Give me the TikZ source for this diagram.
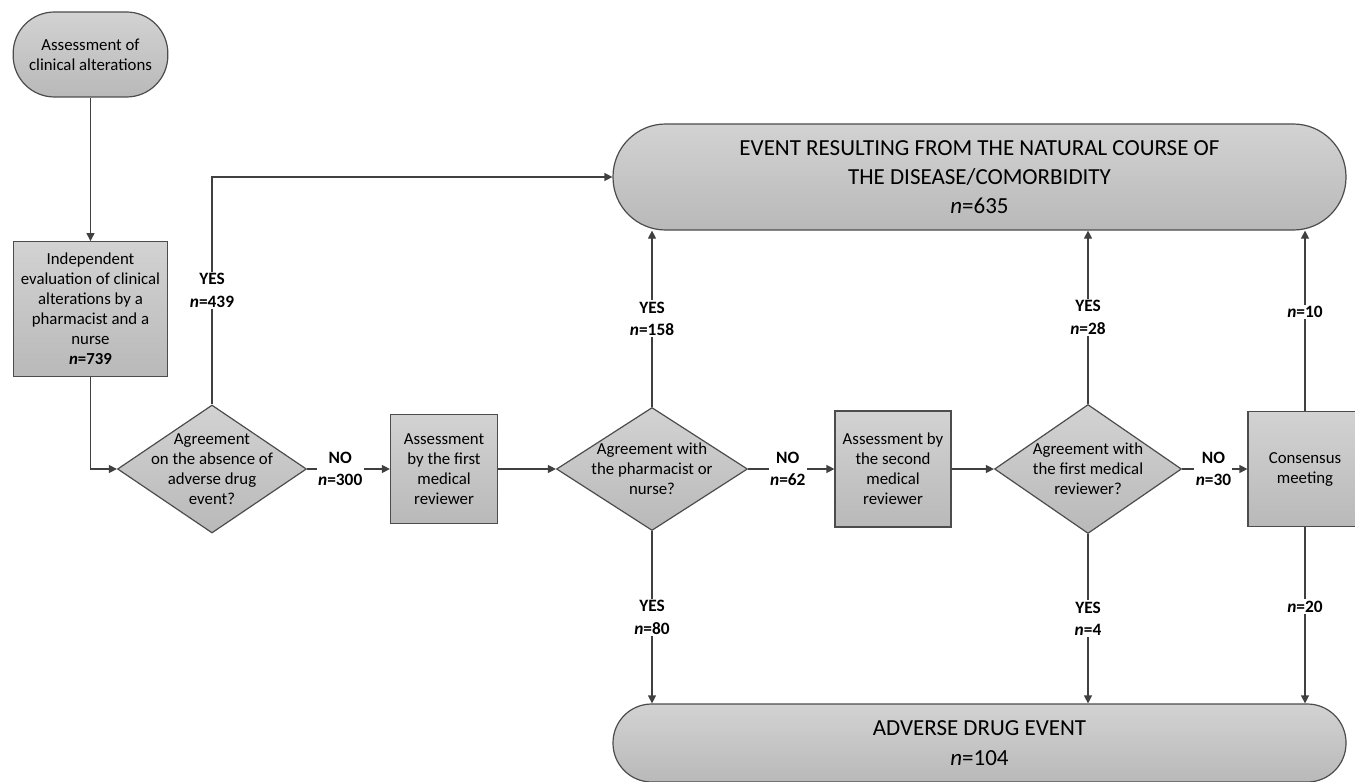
\documentclass[tikz,border=0pt]{standalone}
\usepackage{fontspec}
\setmainfont{Carlito}
\usetikzlibrary{shapes.geometric, arrows.meta}

\begin{document}
\begin{tikzpicture}[x=0.75pt, y=-0.75pt, line width=0.9pt, >={Triangle[length=6pt, width=6pt]},
		main/.style = {draw=black!70, top color=gray!35, bottom color=gray!55, align=center, inner sep=2pt, font=\fontsize{12.6}{15}\selectfont},
		term/.style = {main, rectangle, rounded corners=#1},
		box/.style = {main, rectangle},
		dec/.style = {main, diamond},
		every label/.style = {align=center, font=\fontsize{12.6}{15}\selectfont},
		lbl/.style = {fill=white, inner sep=1pt, align=center, font=\bfseries\fontsize{13}{17}\selectfont},
		conn/.style = {->, draw=black!75}]
		\useasboundingbox (0,0) rectangle (1355,781);
		\node[term=31pt, minimum width=116pt, minimum height=63.75pt] (1) at (90.5,54.5) {Assessment of\\clinical alterations};
		\node[box, minimum width=115.5pt, minimum height=101.25pt] (2) [below of=1, node distance=191pt] {Independent\\evaluation of clinical\\alterations by a\\pharmacist and a\\nurse\\\textbf{\textit{n}=739}};
		\node[dec, minimum width=141.75pt, minimum height=96pt, label={center:{Agreement\\on the absence of\\adverse drug\\event?}}] (3) at (212,469) {};
		\node[box, minimum width=80.25pt, minimum height=81.75pt] (4) [right of=3, node distance=174pt] {Assessment\\by the first\\medical\\reviewer};
		\node[dec, minimum width=143.25pt, minimum height=92.25pt, label={center:{Agreement with\\the pharmacist or\\nurse?}}] (5) [right of=4, node distance=156pt] {};
		\node[box, minimum width=87pt, minimum height=87pt] (6) [right of=5, node distance=180.75pt] {Assessment by\\the second\\medical\\reviewer};
		\node[dec, minimum width=140.25pt, minimum height=96.75pt, label={center:{Agreement with\\the first medical\\reviewer?}}] (7) [right of=6, node distance=146.25pt] {};
		\node[box, minimum width=85.5pt, minimum height=86.25pt] (8) [right of=7, node distance=162.75pt] {Consensus\\meeting};
		\node[term=39.5pt, minimum width=549.75pt, minimum height=79.5pt, font=\fontsize{17.25}{21.75}\selectfont] (9) at (979.5,177) {EVENT RESULTING FROM THE NATURAL COURSE OF\\THE DISEASE/COMORBIDITY\\\textit{n}=635};
		\node[term=29pt, minimum width=549.75pt, minimum height=58.5pt, font=\fontsize{17.25}{23}\selectfont] (10) at (979.5,743) {ADVERSE DRUG EVENT\\\textit{n}=104};
		\draw[conn] (1) -- (2);
		\draw[conn] (2) |- (3);
		\draw[conn] (3) |- node[lbl, pos=0.25] {YES\\\textit{n}=439} (9);
		\draw[conn] (3) -- node[lbl, pos=0.4] {NO\\\textit{n}=300} (4);
		\draw[conn] (4) -- (5);
		\draw[conn] (5) -- node[lbl, pos=0.46] {NO\\\textit{n}=62} (6);
		\draw[conn] (6) -- (7);
		\draw[conn] (7) -- node[lbl, pos=0.48] {NO\\\textit{n}=30} (8);
		\draw[conn] (5) -- node[lbl] {YES\\\textit{n}=158} (5 |- 9.south);
		\draw[conn] (7) -- node[lbl] {YES\\\textit{n}=28} (7 |- 9.south);
		\draw[conn] (8) -- node[lbl, pos=0.55] {\textit{n}=10} (8 |- 9.south);
		\draw[conn] (5) -- node[lbl] {YES\\\textit{n}=80} (5 |- 10.north);
		\draw[conn] (7) -- node[lbl] {YES\\\textit{n}=4} (7 |- 10.north);
		\draw[conn] (8) -- node[lbl, pos=0.45] {\textit{n}=20} (8 |- 10.north);
	\end{tikzpicture}
\end{document}
